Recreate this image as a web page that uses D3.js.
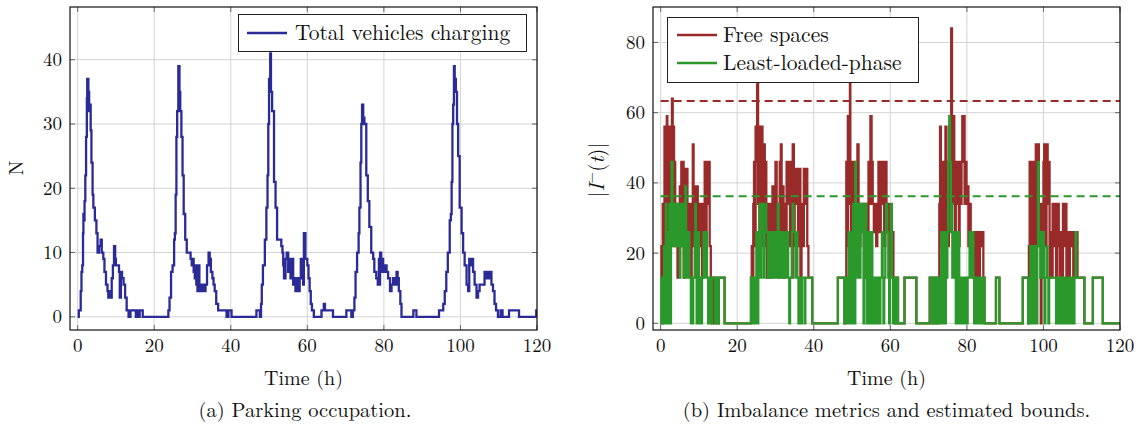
<!DOCTYPE html>
<html>
<head>
<meta charset="utf-8">
<script src="https://cdn.jsdelivr.net/npm/d3@7"></script>
<style>
  body { margin: 0; background: #fff; }
  text { font-family: "Latin Modern Roman", "CMU Serif", "Liberation Serif", serif; fill: #111; }
</style>
</head>
<body>
<svg id="chart" width="1140" height="430"></svg>
<script>
//***************************************************************************
// Data

var xTicks = [0, 20, 40, 60, 80, 100, 120];
var yTicksA = [0, 10, 20, 30, 40];
var yTicksB = [0, 20, 40, 60, 80];

var legendA = ["Total vehicles charging"];
var legendB = ["Free spaces", "Least-loaded-phase"];
var captions = ["(a) Parking occupation.", "(b) Imbalance metrics and estimated bounds."];

// total vehicles charging, [time (h), N], step after
var charging = [
[0,0],[0.3,1],[0.8,4],[1.0,7],[1.2,8],[1.4,13],[1.5,16],[1.7,15],[1.8,18],[2.0,22],[2.2,28],[2.4,34],[2.5,37],
[2.8,35],[3.0,32],[3.2,33],[3.4,29],[3.6,24],[3.9,19],[4.1,17],[4.5,15],[4.9,13],[5.2,10],[5.6,11],[6.0,12],
[6.3,10],[6.7,9],[7.0,7],[7.4,5],[7.8,4],[8.0,3],[8.4,4],[8.6,3],[8.9,6],[9.2,8],[9.5,11],[9.8,9],[10.0,8],
[10.8,7],[11.0,3],[11.3,7],[11.6,6],[12.0,5],[12.4,3],[12.8,1],[13.3,0],[13.8,1],[15.2,0],[15.5,1],[15.8,0],
[16.2,1],[17.0,0],
[23.7,1],[24.0,3],[24.4,7],[24.8,8],[25.2,12],[25.4,13],[25.6,19],[25.8,28],[26.0,32],[26.3,39],[26.6,35],
[26.8,32],[27.1,28],[27.4,22],[27.7,16],[28.1,12],[28.5,10],[29.5,9],[29.8,8],[30.0,9],[30.3,7],[30.6,6],
[30.8,8],[31.0,5],[31.3,4],[31.6,8],[31.8,5],[32.0,4],[32.5,5],[33.0,4],[33.4,5],[33.8,8],[34.2,10],[34.5,9],
[34.8,7],[35.2,6],[35.5,5],[35.8,4],[36.2,2],[36.7,1],[38.9,0],[39.4,1],[40.2,0],
[46.7,1],[47.6,0],[47.9,2],[48.1,5],[48.4,8],[48.9,12],[49.3,17],[49.6,22],[49.8,30],[50.0,37],[50.3,41],
[50.5,35],[50.8,32],[51.3,21],[51.7,17],[52.1,12],[53.2,11],[53.5,10],[53.7,8],[53.9,6],[54.3,9],[54.6,10],
[55.0,7],[55.2,9],[55.6,6],[55.8,9],[56.3,5],[56.5,6],[56.9,4],[57.1,6],[57.6,4],[58.0,6],[58.3,9],[58.6,7],
[58.9,5],[59.1,13],[59.5,9],[60.0,8],[60.3,6],[60.6,4],[60.9,2],[61.2,1],[61.7,0],[63.7,1],[64.3,2],[64.6,1],
[66.7,0],
[70.2,1],[71.5,0],[71.9,1],[72.3,3],[72.6,7],[73.0,10],[73.4,13],[73.6,17],[73.9,24],[74.1,30],[74.3,33],
[74.6,31],[74.9,30],[75.4,22],[75.8,18],[76.2,14],[76.7,10],[77.2,9],[77.5,7],[78.0,6],[78.4,5],[78.7,9],
[78.9,5],[79.0,10],[79.3,7],[79.6,9],[79.8,7],[80.3,8],[80.7,7],[81.1,6],[81.6,4],[82.0,5],[82.4,6],[82.8,5],
[83.3,7],[83.6,6],[83.9,4],[84.3,2],[84.6,0],[87.7,1],[88.5,0],
[94.4,1],[95.5,2],[95.9,4],[96.3,7],[96.7,10],[97.2,15],[97.5,16],[97.7,21],[97.9,30],[98.1,33],[98.3,39],
[98.5,37],[98.8,35],[99.1,30],[99.4,25],[99.8,17],[100.3,13],[100.7,10],[101.1,8],[101.6,5],[102.0,4],
[102.3,9],[102.6,8],[102.9,9],[103.3,7],[103.7,5],[104.2,3],[104.6,4],[105.0,5],[106.3,7],[106.6,6],[106.9,7],
[107.2,6],[107.6,7],[108.1,5],[108.5,4],[108.9,2],[109.3,1],[109.8,0],[110.5,1],[111.0,0],[112.7,1],[115.3,0],
[119.8,1],[120,1]
];

// free spaces, [time (h), |I-(t)|], step after
var freeSpaces = [
[0,13],[0.2,22],[0.4,0],[0.55,34],[0.7,13],[0.85,22],[1.0,56],[1.15,22],[1.3,56],[1.45,13],[1.6,59],[1.75,34],
[1.9,46],[2.05,22],[2.2,56],[2.35,13],[2.5,34],[2.65,22],[2.8,46],[2.95,64],[3.15,46],[3.3,56],[3.5,22],
[3.65,46],[3.8,34],[4.0,22],[4.2,34],[4.4,13],[4.6,34],[4.8,22],[5.0,39],[5.2,34],[5.4,46],[5.6,22],[5.8,46],
[6.0,13],[6.2,34],[6.4,44],[6.6,22],[6.8,44],[7.0,34],[7.2,22],[7.5,34],[7.8,13],[8.1,34],[8.4,51],[8.6,22],
[8.8,39],[9.1,34],[9.3,22],[9.5,39],[9.7,34],[10.0,22],[10.2,34],[10.5,22],[10.8,13],[11.0,34],[11.2,22],
[11.5,46],[11.8,22],[12.0,46],[12.3,34],[12.5,46],[12.8,22],[13.1,13],[13.4,0],[13.6,13],[14.2,0],[14.4,13],
[15.0,0],[15.2,13],[16.7,0],
[23.6,13],[23.8,22],[24.0,13],[24.2,34],[24.4,46],[24.6,22],[24.8,56],[25.0,46],[25.2,68],[25.35,78],[25.45,34],
[25.6,56],[25.8,22],[26.0,46],[26.2,34],[26.4,56],[26.6,22],[26.8,46],[27.0,51],[27.2,22],[27.4,46],[27.6,34],
[27.8,13],[28.0,22],[28.3,34],[28.6,13],[28.9,22],[29.2,39],[29.5,22],[29.8,34],[30.0,46],[30.3,22],[30.6,34],
[30.9,13],[31.1,46],[31.4,51],[31.6,22],[31.9,39],[32.1,13],[32.4,34],[32.6,22],[32.9,46],[33.2,34],[33.5,46],
[33.8,22],[34.0,46],[34.3,13],[34.5,51],[34.8,22],[35.0,44],[35.3,34],[35.6,44],[35.9,22],[36.2,44],[36.5,13],
[36.8,34],[37.1,22],[37.4,44],[37.7,34],[38.0,44],[38.3,22],[38.6,13],[39.6,0],
[46.3,13],[48.0,0],[48.2,13],[48.5,46],[48.7,22],[48.9,59],[49.1,34],[49.3,46],[49.45,80],[49.55,46],[49.7,22],
[49.9,46],[50.1,13],[50.3,34],[50.5,46],[50.7,22],[50.9,34],[51.2,22],[51.4,51],[51.7,34],[51.9,22],[52.2,34],
[52.5,26],[52.8,34],[53.1,22],[53.4,13],[53.7,34],[54.0,22],[54.3,46],[54.6,34],[54.8,59],[55.1,46],[55.4,34],
[55.7,26],[56.0,34],[56.3,22],[56.6,34],[56.9,46],[57.2,26],[57.5,46],[57.8,34],[58.1,46],[58.4,22],[58.7,46],
[59.0,26],[59.3,34],[59.6,13],[59.9,26],[60.2,13],[60.5,26],[60.8,13],[61.2,0],[61.4,13],[62.0,0],[63.7,13],
[66.8,0],
[70.3,13],[71.0,0],[71.2,13],[71.8,0],[72.0,13],[72.3,0],[72.5,13],[72.8,34],[73.0,56],[73.2,22],[73.4,46],
[73.6,13],[73.8,34],[74.0,46],[74.2,22],[74.4,56],[74.6,34],[74.8,46],[75.0,22],[75.3,56],[75.6,46],[75.9,84],
[76.1,59],[76.3,34],[76.5,59],[76.7,46],[76.9,22],[77.1,46],[77.4,34],[77.6,46],[77.9,22],[78.1,46],[78.4,34],
[78.6,46],[78.8,59],[79.0,46],[79.2,59],[79.4,34],[79.6,46],[79.9,34],[80.1,39],[80.4,22],[80.7,34],[81.0,22],
[81.3,26],[81.6,13],[81.9,22],[82.2,26],[82.5,13],[82.8,26],[83.1,13],[83.4,26],[83.7,22],[84.0,26],[84.3,13],
[84.6,0],[87.6,13],[88.5,0],
[94.6,13],[96.0,0],[96.2,22],[96.4,46],[96.6,22],[96.8,46],[97.0,13],[97.2,34],[97.4,22],[97.6,46],[97.8,34],
[98.0,51],[98.2,22],[98.4,46],[98.6,51],[98.8,34],[99.0,22],[99.3,0],[99.5,34],[99.8,13],[100.0,46],[100.2,51],
[100.5,22],[100.8,51],[101.1,34],[101.4,46],[101.6,13],[101.8,26],[102.1,13],[102.4,34],[102.7,22],[103.0,34],
[103.3,13],[103.6,34],[104.0,22],[104.3,13],[104.6,26],[104.9,13],[105.1,34],[105.4,22],[105.7,34],[106.0,13],
[106.3,26],[106.6,13],[106.9,26],[107.2,22],[107.5,26],[107.8,13],[108.1,26],[108.4,13],[108.6,26],[108.9,13],
[110.7,0],[112.9,13],[115.5,0],[120,0]
];

// least-loaded-phase, [time (h), |I-(t)|], step after
var leastLoaded = [
[0,13],[0.15,0],[0.3,13],[0.45,0],[0.6,13],[0.75,0],[0.9,22],[1.05,0],[1.2,13],[1.35,34],[1.5,0],[1.65,13],
[1.8,26],[1.95,0],[2.1,13],[2.25,34],[2.4,13],[2.55,0],[2.7,26],[2.85,46],[3.1,22],[3.25,34],[3.45,26],[3.6,34],
[3.8,22],[3.95,34],[4.15,26],[4.3,34],[4.5,22],[4.7,34],[4.85,26],[5.0,13],[5.15,34],[5.35,22],[5.55,34],
[5.7,26],[5.9,34],[6.1,13],[6.25,22],[6.45,39],[6.65,13],[6.85,26],[7.05,13],[7.3,26],[7.5,13],[7.9,0],[8.1,13],
[8.3,0],[8.5,13],[8.9,26],[9.05,34],[9.2,13],[9.4,0],[9.6,13],[9.8,26],[10.0,13],[10.2,0],[10.4,13],[10.6,0],
[10.8,13],[11.2,26],[11.5,13],[11.7,26],[12.1,13],[12.4,0],[12.6,13],[13.2,0],[13.4,13],[14.2,0],[14.4,13],
[15.0,0],[15.2,13],[16.7,0],
[23.6,13],[23.8,0],[24.0,13],[24.2,0],[24.4,13],[24.55,0],[24.7,13],[24.85,0],[25.0,26],[25.2,13],[25.35,0],
[25.5,26],[25.7,13],[25.85,34],[26.0,26],[26.2,13],[26.35,26],[26.6,34],[26.75,26],[27.0,13],[27.15,26],
[27.4,34],[27.6,26],[28.0,13],[28.2,26],[28.6,13],[28.8,26],[29.1,13],[29.3,26],[29.6,13],[30.0,26],[30.4,13],
[30.6,34],[30.8,13],[31.0,26],[31.4,13],[31.6,26],[32.0,13],[32.3,26],[32.5,13],[33.0,26],[33.3,13],[33.6,0],
[33.8,13],[34.3,26],[34.5,34],[34.7,26],[35.2,13],[35.5,26],[35.7,13],[36.0,0],[36.2,13],[36.7,0],[36.9,13],
[37.6,0],[37.8,13],[39.6,0],
[46.3,13],[48.0,0],[48.2,13],[48.4,0],[48.6,13],[48.8,0],[49.0,13],[49.1,26],[49.3,0],[49.5,13],[49.7,26],
[49.9,0],[50.1,13],[50.3,34],[50.5,13],[50.7,0],[50.85,46],[51.0,34],[51.2,13],[51.4,34],[51.6,26],[51.8,34],
[52.0,13],[52.2,34],[52.5,26],[52.7,34],[53.0,0],[53.2,13],[53.5,34],[53.7,13],[53.9,0],[54.1,13],[54.3,26],
[54.5,13],[54.7,0],[54.9,13],[55.1,26],[55.3,0],[55.5,13],[55.7,0],[55.9,13],[56.2,0],[56.4,13],[56.7,0],
[56.9,13],[57.2,0],[57.4,13],[57.8,26],[58.0,13],[58.2,0],[58.4,13],[58.7,26],[58.9,34],[59.2,26],[59.5,13],
[59.7,0],[59.9,13],[60.2,34],[60.4,13],[60.7,0],[60.9,13],[61.2,0],[61.4,13],[62.0,0],[63.7,13],[66.8,0],
[70.3,13],[71.0,0],[71.2,13],[71.8,0],[72.0,13],[72.3,0],[72.5,13],[72.7,0],[72.9,13],[73.1,0],[73.3,26],
[73.5,13],[73.7,0],[73.9,26],[74.1,13],[74.3,0],[74.5,26],[74.7,13],[74.9,26],[75.1,46],[75.4,59],[75.6,46],
[75.8,26],[76.0,34],[76.2,13],[76.4,26],[76.7,13],[76.9,26],[77.1,0],[77.3,13],[77.5,0],[77.7,26],[78.0,13],
[78.2,0],[78.4,13],[78.6,0],[78.8,13],[79.0,0],[79.2,13],[79.4,0],[79.6,13],[80.0,0],[80.2,13],[80.7,26],
[81.0,13],[81.3,26],[81.7,13],[81.9,0],[82.1,13],[82.4,0],[82.6,13],[83.0,0],[83.2,13],[83.8,0],[84.0,13],
[84.6,0],[87.6,13],[88.5,0],
[94.6,13],[96.0,0],[96.2,13],[96.4,0],[96.6,22],[96.8,0],[97.0,13],[97.2,22],[97.4,0],[97.6,13],[97.8,22],
[98.0,13],[98.2,0],[98.4,22],[98.6,46],[98.8,22],[99.0,26],[99.2,13],[99.4,26],[99.6,13],[99.8,26],[100.1,13],
[100.3,0],[100.5,13],[100.8,22],[101.0,13],[101.3,0],[101.5,13],[103.3,0],[103.5,13],[103.7,0],[103.9,13],
[104.2,0],[104.5,13],[104.7,0],[104.9,13],[105.2,0],[105.4,13],[105.7,0],[105.9,13],[106.2,0],[106.4,13],
[106.7,0],[107.0,13],[107.3,0],[107.6,13],[107.9,0],[108.1,13],[108.4,26],[108.6,13],[110.7,0],[112.9,13],
[115.5,0],[120,0]
];

// estimated bounds (dashed)
var boundFree = 63.3;
var boundLeast = 36.2;

//***************************************************************************
// Drawing

var svg = d3.select("#chart");
var blue = "#2b2b98", red = "#982a2a", green = "#2b982b";

function panel(id, left, right, top, bottom, xDom, yDom, yTicks) {
	var x = d3.scaleLinear().domain(xDom).range([left, right]);
	var y = d3.scaleLinear().domain(yDom).range([bottom, top]);
	var g = svg.append("g");

	// grid
	g.selectAll(".gx").data(xTicks).enter().append("line")
		.attr("x1", d => x(d)).attr("x2", d => x(d))
		.attr("y1", top).attr("y2", bottom)
		.attr("stroke", "#d4d4d4").attr("stroke-width", 1);
	g.selectAll(".gy").data(yTicks).enter().append("line")
		.attr("x1", left).attr("x2", right)
		.attr("y1", d => y(d)).attr("y2", d => y(d))
		.attr("stroke", "#d4d4d4").attr("stroke-width", 1);

	// inner tick marks on all four sides
	var tk = 5;
	[[bottom, -tk], [top, tk]].forEach(function(s) {
		g.selectAll(null).data(xTicks).enter().append("line")
			.attr("x1", d => x(d)).attr("x2", d => x(d))
			.attr("y1", s[0]).attr("y2", s[0] + s[1])
			.attr("stroke", "#666").attr("stroke-width", 1);
	});
	[[left, tk], [right, -tk]].forEach(function(s) {
		g.selectAll(null).data(yTicks).enter().append("line")
			.attr("x1", s[0]).attr("x2", s[0] + s[1])
			.attr("y1", d => y(d)).attr("y2", d => y(d))
			.attr("stroke", "#666").attr("stroke-width", 1);
	});

	// tick labels
	g.selectAll(null).data(xTicks).enter().append("text")
		.attr("x", d => x(d)).attr("y", bottom + 22)
		.attr("text-anchor", "middle").attr("font-size", 19)
		.text(d => d);
	g.selectAll(null).data(yTicks).enter().append("text")
		.attr("x", left - 8).attr("y", d => y(d) + 6.5)
		.attr("text-anchor", "end").attr("font-size", 19)
		.text(d => d);

	svg.append("clipPath").attr("id", id)
		.append("rect").attr("x", left).attr("y", top)
		.attr("width", right - left).attr("height", bottom - top);

	var plot = svg.append("g").attr("clip-path", "url(#" + id + ")");
	return {x: x, y: y, g: g, plot: plot, left: left, right: right, top: top, bottom: bottom};
}

function stepLine(p, data, color, w) {
	var line = d3.line()
		.x(d => p.x(d[0]))
		.y(d => p.y(d[1]))
		.curve(d3.curveStepAfter);
	p.plot.append("path")
		.datum(data)
		.attr("d", line)
		.attr("fill", "none")
		.attr("stroke", color)
		.attr("stroke-width", w)
		.attr("stroke-linejoin", "miter");
}

function frame(p) {
	svg.append("rect")
		.attr("x", p.left).attr("y", p.top)
		.attr("width", p.right - p.left).attr("height", p.bottom - p.top)
		.attr("fill", "none").attr("stroke", "#111").attr("stroke-width", 1.2);
}

//***************************************************************************
// (a) Parking occupation

var pa = panel("clipA", 70, 537, 7, 330, [-2, 120], [-2.05, 48.2], yTicksA);
stepLine(pa, charging, blue, 2.3);
frame(pa);

svg.append("rect").attr("x", 238.5).attr("y", 14.5).attr("width", 288).attr("height", 37)
	.attr("fill", "#fff").attr("stroke", "#222").attr("stroke-width", 1);
svg.append("line").attr("x1", 247).attr("x2", 287).attr("y1", 33).attr("y2", 33)
	.attr("stroke", blue).attr("stroke-width", 2.3);
svg.append("text").attr("x", 295).attr("y", 40).attr("font-size", 21.5).text(legendA[0]);

svg.append("text").attr("transform", "translate(23,168) rotate(-90)")
	.attr("text-anchor", "middle").attr("font-size", 20).text("N");
svg.append("text").attr("x", 303.5).attr("y", 385).attr("text-anchor", "middle")
	.attr("font-size", 20).text("Time (h)");
svg.append("text").attr("x", 305).attr("y", 417).attr("text-anchor", "middle")
	.attr("font-size", 20.5).text(captions[0]);

//***************************************************************************
// (b) Imbalance metrics

var pb = panel("clipB", 653, 1120, 7, 330, [-2, 120], [-1.9, 90.1], yTicksB);
stepLine(pb, freeSpaces, red, 2.3);
stepLine(pb, leastLoaded, green, 2.3);

pb.plot.append("line")
	.attr("x1", pb.x(0)).attr("x2", pb.x(120))
	.attr("y1", pb.y(boundFree)).attr("y2", pb.y(boundFree))
	.attr("stroke", red).attr("stroke-width", 2).attr("stroke-dasharray", "8,5");
pb.plot.append("line")
	.attr("x1", pb.x(0)).attr("x2", pb.x(120))
	.attr("y1", pb.y(boundLeast)).attr("y2", pb.y(boundLeast))
	.attr("stroke", green).attr("stroke-width", 2).attr("stroke-dasharray", "8,5");
frame(pb);

svg.append("rect").attr("x", 667.5).attr("y", 17.5).attr("width", 251).attr("height", 65)
	.attr("fill", "#fff").attr("stroke", "#222").attr("stroke-width", 1);
[red, green].forEach(function(c, i) {
	svg.append("line").attr("x1", 677).attr("x2", 717)
		.attr("y1", 35 + i * 28).attr("y2", 35 + i * 28)
		.attr("stroke", c).attr("stroke-width", 2.3);
	svg.append("text").attr("x", 723).attr("y", 42 + i * 28)
		.attr("font-size", 21.5).text(legendB[i]);
});

var ylab = svg.append("text").attr("transform", "translate(604,170) rotate(-90)")
	.attr("text-anchor", "middle").attr("font-size", 21);
ylab.append("tspan").text("|");
ylab.append("tspan").attr("font-style", "italic").text("I");
ylab.append("tspan").attr("font-size", 15).attr("dy", -8).text("\u2212");
ylab.append("tspan").attr("dy", 8).text("(");
ylab.append("tspan").attr("font-style", "italic").text("t");
ylab.append("tspan").text(")|");

svg.append("text").attr("x", 886.5).attr("y", 385).attr("text-anchor", "middle")
	.attr("font-size", 20).text("Time (h)");
svg.append("text").attr("x", 886.5).attr("y", 417).attr("text-anchor", "middle")
	.attr("font-size", 20.5).text(captions[1]);
</script>
</body>
</html>
